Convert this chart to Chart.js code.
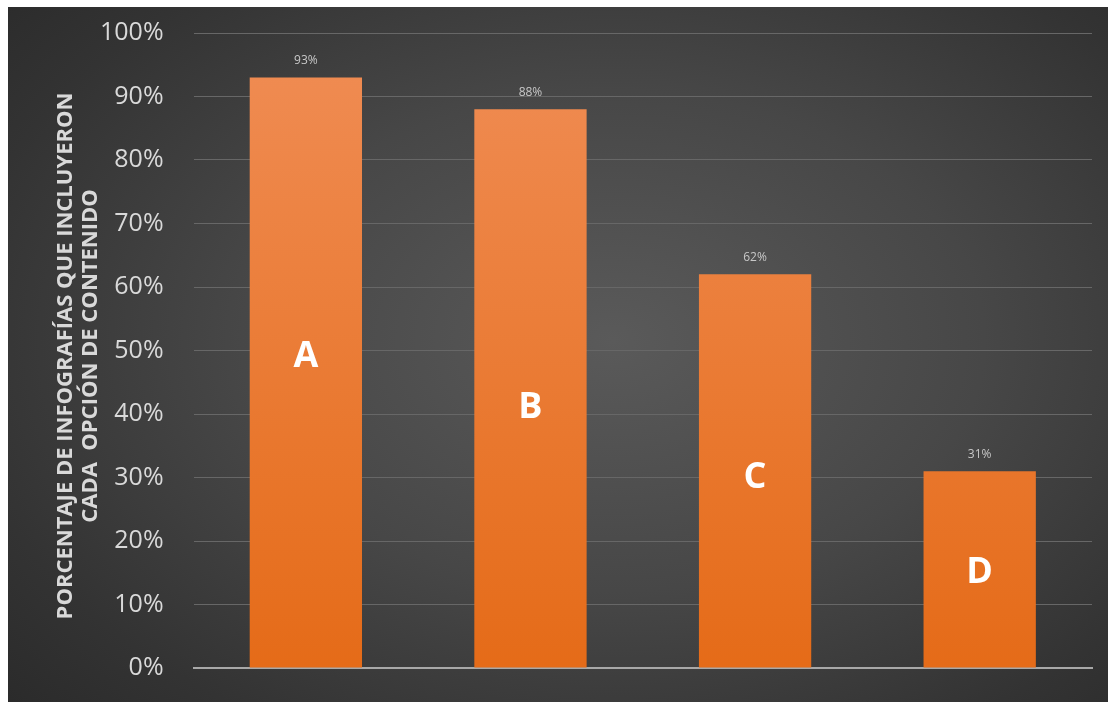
<!DOCTYPE html>
<html>
<head>
<meta charset="utf-8">
<script src="https://cdn.jsdelivr.net/npm/chart.js@4.4.1/dist/chart.umd.min.js"></script>
<style>
  html, body { margin: 0; padding: 0; background: #fff; }
  #wrap {
    position: absolute; left: 8px; top: 7px; width: 1100px; height: 695px;
    background: radial-gradient(ellipse 75% 80% at 55% 48%, #5a5a5a 0%, #474747 45%, #333 80%, #2a2a2a 100%);
  }
</style>
</head>
<body>
<div id="wrap"><canvas id="canvas"></canvas></div>
<script>
var categories = ['A', 'B', 'C', 'D'];
var values = [93, 88, 62, 31];
var letterAt = [49, 41, 30, 15];   // where the big letter sits, in % on the y scale
var yTicks = [0, 10, 20, 30, 40, 50, 60, 70, 80, 90, 100];
var yTitle = ['PORCENTAJE DE INFOGRAFÍAS QUE INCLUYERON', 'CADA  OPCIÓN DE CONTENIDO'];

var labelPlugin = {
  id: 'barLabels',
  afterDatasetsDraw: function(chart) {
    var ctx = chart.ctx;
    var meta = chart.getDatasetMeta(0);
    var y = chart.scales.y;
    ctx.save();
    ctx.textAlign = 'center';
    meta.data.forEach(function(bar, i) {
      ctx.fillStyle = '#c8c8c8';
      ctx.font = '12px "Open Sans"';
      ctx.textBaseline = 'bottom';
      ctx.fillText(values[i] + '%', bar.x, bar.y - 11);
      ctx.fillStyle = '#ffffff';
      ctx.font = 'bold 36px "Open Sans"';
      ctx.textBaseline = 'middle';
      ctx.fillText(categories[i], bar.x, y.getPixelForValue(letterAt[i]));
    });
    // rotated axis title, two lines
    ctx.translate(58, 349);
    ctx.rotate(-Math.PI / 2);
    ctx.fillStyle = '#d9d9d9';
    ctx.font = 'bold 22px "Open Sans"';
    ctx.textBaseline = 'middle';
    ctx.fillText(yTitle[0], 0, 0);
    ctx.fillText(yTitle[1], 0, 25);
    ctx.restore();
  }
};

window.onload = function() {
  var ctx = document.getElementById('canvas').getContext('2d');
  window.myBar = new Chart(ctx, {
    type: 'bar',
    data: {
      labels: categories,
      datasets: [{
        data: values,
        backgroundColor: function(c) {
          var area = c.chart.chartArea;
          if (!area) return '#ee7b30';
          var g = c.chart.ctx.createLinearGradient(0, area.top, 0, area.bottom);
          g.addColorStop(0, '#f08d55');
          g.addColorStop(1, '#e56b18');
          return g;
        },
        borderWidth: 0,
        barPercentage: 0.5,
        categoryPercentage: 1
      }]
    },
    options: {
      responsive: true,
      maintainAspectRatio: false,
      animation: false,
      layout: { padding: { top: 26, right: 16, bottom: 26, left: 62 } },
      plugins: {
        legend: { display: false },
        tooltip: { enabled: false }
      },
      scales: {
        x: {
          grid: { display: false },
          ticks: { display: false },
          border: { color: '#a8a8a8', width: 2 }
        },
        y: {
          min: 0,
          max: 100,
          afterBuildTicks: function(axis) {
            axis.ticks = yTicks.map(function(v) { return { value: v }; });
          },
          afterFit: function(axis) {
            axis.paddingTop = 0;
            axis.paddingBottom = 0;
          },
          ticks: {
            color: '#d9d9d9',
            font: { family: '"Open Sans"', size: 25 },
            padding: 30,
            callback: function(v) { return v + '%'; }
          },
          grid: { color: '#676767', lineWidth: 1, drawTicks: false },
          border: { display: false }
        }
      }
    },
    plugins: [labelPlugin]
  });
};
</script>
</body>
</html>
